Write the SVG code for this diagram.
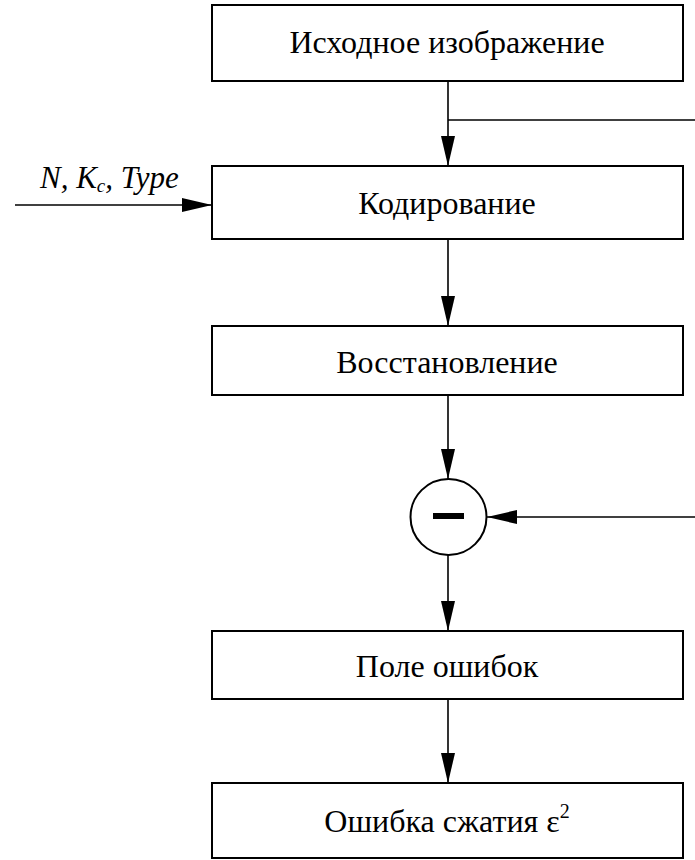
<svg xmlns="http://www.w3.org/2000/svg" width="695" height="860" viewBox="0 0 695 860">
<defs>
<marker id="ah" markerUnits="userSpaceOnUse" markerWidth="30" markerHeight="14" refX="30" refY="7" orient="auto">
<path d="M0,0 L30,7 L0,14 z" fill="#000"/>
</marker>
</defs>
<rect width="695" height="860" fill="#fff"/>
<g id="connectors" fill="none" stroke="#000" stroke-width="1.6">
<line x1="448" y1="81" x2="448" y2="166" marker-end="url(#ah)"/>
<line x1="448" y1="120" x2="695" y2="120"/>
<line x1="15" y1="205" x2="212" y2="205" marker-end="url(#ah)"/>
<line x1="448" y1="239" x2="448" y2="326" marker-end="url(#ah)"/>
<line x1="448" y1="395" x2="448" y2="479" marker-end="url(#ah)"/>
<line x1="695" y1="517" x2="487" y2="517" marker-end="url(#ah)"/>
<line x1="448" y1="555" x2="448" y2="631" marker-end="url(#ah)"/>
<line x1="448" y1="699" x2="448" y2="783" marker-end="url(#ah)"/>
</g>
<g id="params">
<text x="40" y="188" font-family="serif" font-size="31" font-style="italic">N, K<tspan font-size="19" dy="4">c</tspan><tspan dy="-4">, Type</tspan></text>
</g>
<g id="source">
<rect x="212" y="5" width="471" height="76" fill="#fff" stroke="#000" stroke-width="2"/>
<text x="447" y="53" font-family="serif" font-size="32" text-anchor="middle">Исходное изображение</text>
</g>
<g id="coding">
<rect x="212" y="166" width="471" height="73" fill="#fff" stroke="#000" stroke-width="2"/>
<text x="447" y="214" font-family="serif" font-size="32" text-anchor="middle">Кодирование</text>
</g>
<g id="restore">
<rect x="212" y="326" width="471" height="69" fill="#fff" stroke="#000" stroke-width="2"/>
<text x="447" y="373" font-family="serif" font-size="32" text-anchor="middle">Восстановление</text>
</g>
<g id="subtract">
<circle cx="448.5" cy="517" r="38" fill="#fff" stroke="#000" stroke-width="2"/>
<rect x="433" y="513" width="31" height="6" fill="#000"/>
</g>
<g id="errorfield">
<rect x="212" y="631" width="471" height="68" fill="#fff" stroke="#000" stroke-width="2"/>
<text x="447" y="677" font-family="serif" font-size="32" text-anchor="middle">Поле ошибок</text>
</g>
<g id="error">
<rect x="212" y="783" width="471" height="75" fill="#fff" stroke="#000" stroke-width="2"/>
<text x="447" y="832" font-family="serif" font-size="32" text-anchor="middle">Ошибка сжатия ε<tspan font-size="20" dy="-14">2</tspan></text>
</g>
</svg>
